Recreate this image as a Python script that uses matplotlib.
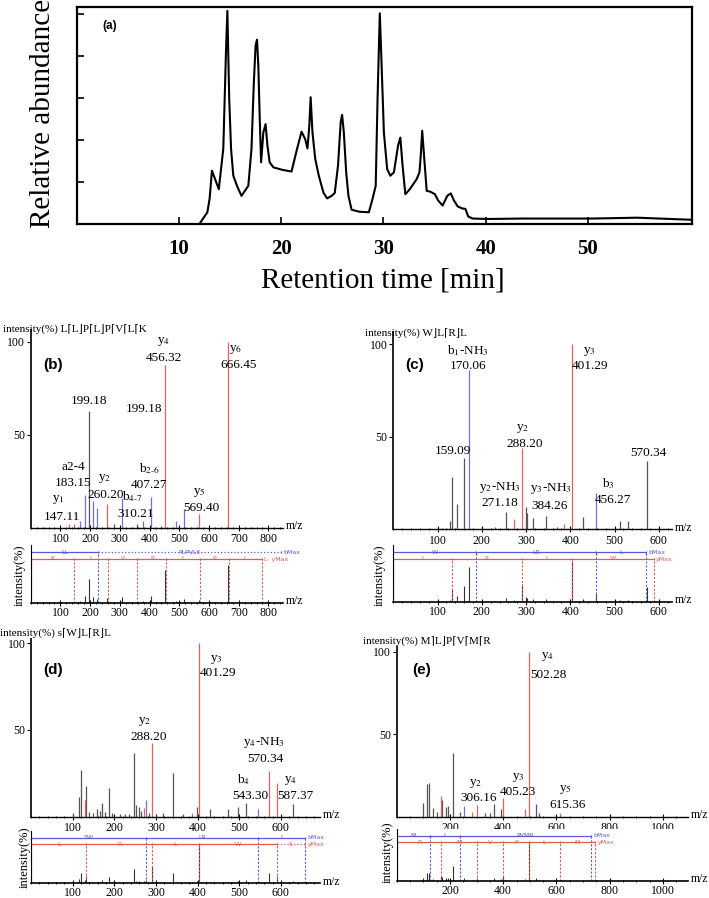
import matplotlib
matplotlib.use("Agg")
import matplotlib.pyplot as plt
from matplotlib.ticker import MultipleLocator

plt.rcParams['font.family'] = ['Liberation Serif', 'DejaVu Sans']
plt.rcParams['mathtext.fontset'] = 'stix'

W, H = 709, 898

# ---------------- data ----------------
# (a) chromatogram
rt_min = [12.09, 12.76, 12.98, 13.21, 13.88, 14.32, 14.59, 14.72, 14.90, 15.08, 15.30, 15.66,
          16.10, 16.77, 17.08, 17.31, 17.48, 17.62, 17.75, 17.88, 18.02, 18.24, 18.46, 18.64,
          18.86, 19.22, 20.11, 21.00, 21.54, 21.98, 22.34, 22.56, 22.74, 22.87, 23.05, 23.32,
          23.67, 24.12, 24.48, 24.92, 25.23, 25.55, 25.81, 25.95, 26.12, 26.35, 26.57, 26.88,
          27.68, 28.57, 28.93, 29.24, 29.42, 29.64, 29.82, 30.04, 30.36, 30.67, 31.02, 31.43,
          31.65, 31.87, 32.14, 32.58, 33.25, 33.52, 33.65, 33.79, 33.97, 34.23, 34.59, 35.03,
          35.35, 35.79, 36.24, 36.59, 36.90, 37.26, 37.71, 38.02, 38.29, 38.73, 40.16, 43.72,
          50.40, 54.85, 60.2]
abundance = [0.04, 0.28, 0.60, 1.27, 0.83, 1.79, 4.17, 5.08, 2.98, 1.79, 1.15, 0.91,
             0.67, 0.91, 1.79, 3.37, 4.25, 4.39, 3.77, 2.58, 1.47, 2.18, 2.38, 1.87,
             1.47, 1.35, 1.29, 1.25, 1.79, 2.20, 2.02, 1.80, 2.34, 3.02, 2.18, 1.55,
             1.15, 0.75, 0.61, 0.67, 0.74, 1.39, 2.42, 2.60, 2.18, 1.23, 0.67, 0.34,
             0.29, 0.28, 0.60, 0.91, 2.98, 5.02, 3.77, 2.18, 1.31, 1.15, 1.23, 1.87,
             2.06, 1.39, 0.71, 0.83, 1.07, 1.23, 1.63, 2.22, 1.63, 0.79, 0.77, 0.71,
             0.56, 0.44, 0.67, 0.73, 0.56, 0.42, 0.37, 0.36, 0.18, 0.13, 0.12, 0.13,
             0.13, 0.15, 0.10]
rt_ticks = [10, 20, 30, 40, 50]

# (b) LLPLPVLK
b_seq = "L⌈L⌋P⌈L⌋P⌈V⌈L⌈K"
b_mz = [128, 145, 167, 182, 197, 210, 223, 257, 279, 307, 357, 377, 405, 440, 453, 489, 517, 567, 663]
b_int = [2, 2, 3.6, 17.6, 63, 14.6, 10.4, 12.8, 2, 15.8, 2, 3.6, 16.7, 1, 87.6, 3.6, 10, 7.2, 100]
b_ion = ['y', 'y', 'b', 'b', 'o', 'b', 'b', 'y', 'o', 'b', 'o', 'b', 'b', 'o', 'y', 'b', 'b', 'y', 'y']
b_bfrag = [0, 227, 842]
b_bnames = ["LL", "PLPVLK"]
b_yfrag = [0, 147, 260, 359, 456, 569, 666, 779]
b_ynames = ["K", "L", "V", "P", "L", "P", "L"]

# (c) WLRL
c_seq = "W⌋L⌈R⌋L"
c_mz = [110, 129, 133, 145, 159.5, 171, 230, 254, 272, 290, 299, 301, 316, 345, 369, 385, 403,
        429, 459, 512, 531, 573.6]
c_int = [0.8, 4.3, 28, 13.4, 38.3, 86, 1.3, 9.4, 5.2, 43.7, 12, 8.8, 5.8, 7.2, 1, 2.5, 100,
         6.7, 19.7, 4.3, 4.3, 37]
c_ion = ['o', 'o', 'o', 'o', 'o', 'b', 'o', 'o', 'y', 'y', 'o', 'o', 'o', 'o', 'o', 'y', 'y',
         'o', 'b', 'o', 'o', 'o']
c_bfrag = [0, 187, 459, 572]
c_bnames = ["W", "LR", "L"]
c_yfrag = [0, 133, 290, 403, 589]
c_ynames = ["L", "R", "L", "W"]

# (d) SWLRL
d_seq = "s⌈W⌋L⌈R⌋L"
d_mz = [102, 115, 119, 130, 132, 140, 150, 159, 165, 171, 178, 187, 195, 214, 225, 235, 247, 253,
        260, 265, 271, 275, 283, 290, 300, 318, 340, 364, 386, 399, 403, 431, 474, 498, 516,
        546, 572, 590, 630]
d_int = [1.9, 11.5, 26.9, 9.6, 17.7, 2.5, 2, 4.2, 3, 7.7, 2.5, 16.3, 2, 1.5, 1.5, 1.5, 36.5, 6.7,
         5.8, 3, 4.8, 9.6, 2, 42.7, 1.5, 1.9, 25.4, 1.5, 2.3, 5.8, 100, 4.2, 4.2, 5.4, 7.7,
         4.2, 26.5, 19.6, 7.1]
d_ion = ['o', 'o', 'o', 'y', 'o', 'o', 'o', 'o', 'o', 'o', 'o', 'o', 'o', 'o', 'o', 'o', 'o', 'o',
         'o', 'o', 'y', 'b', 'o', 'y', 'o', 'o', 'o', 'o', 'y', 'o', 'y', 'o', 'o', 'o', 'o',
         'b', 'y', 'y', 'o']
d_bfrag = [0, 275, 546, 659]
d_bnames = ["SW", "LR", "L"]
d_yfrag = [0, 133, 290, 403, 590, 659]
d_ynames = ["L", "R", "L", "W", "S"]

# (e) MLPVMR
e_seq = "M⌉L⌋P⌈V⌈M⌈R"
e_mz = [99, 112, 122, 137, 150, 166, 171, 184, 191, 210, 238, 254, 282, 301, 332, 351, 367, 393,
        399, 481, 497, 524, 534, 614]
e_int = [8.2, 20, 20.4, 5.1, 3, 12.7, 10.2, 6.1, 6.7, 38.4, 3, 6.5, 3, 7.1, 2, 2, 7.8, 4.5,
         11.2, 4.5, 100, 7.6, 2, 2.4]
e_ion = ['o', 'o', 'o', 'o', 'o', 'y', 'o', 'o', 'o', 'o', 'o', 'b', 'y', 'y', 'o', 'o', 'o', 'o',
         'y', 'y', 'y', 'o', 'o', 'y']
e_bfrag = [0, 125, 237, 729]
e_bnames = ["M", "L", "PVMR"]
e_yfrag = [0, 168, 301, 399, 497, 613, 745]
e_ynames = ["R", "M", "V", "P", "L", "M"]

# ---------------- styles / layout ----------------
ion_color = {'y': '#e4625c', 'b': '#7070dc', 'o': '#555555'}
RED, BLUE = '#e25b55', '#5a5ad8'

fig = plt.figure(figsize=(W / 100, H / 100), dpi=100)


def px_axes(left, top, right, bottom):
    return fig.add_axes([left / W, 1 - bottom / H, (right - left) / W, (bottom - top) / H])


def fig_text(x, y, s, **kw):
    return fig.text(x / W, 1 - y / H, s, **kw)


# ---------------- (a) ----------------
ax = px_axes(77, 7, 692, 224)
ax.plot(rt_min, abundance, color='black', lw=1.5)
ax.set_xlim(0, 60.2)
ax.set_ylim(0, 5.17)
ax.set_xticks(rt_ticks)
ax.set_yticks([1, 2, 3, 4, 5])
ax.set_yticklabels([])
ax.tick_params(direction='in', length=5, width=1.2, pad=11)
for lab in ax.get_xticklabels():
    lab.set_fontsize(15)
    lab.set_fontweight('bold')
for s in ax.spines.values():
    s.set_linewidth(1.6)
fig_text(110, 26, '(a)', family='Liberation Sans', fontweight='bold', fontsize=8.5,
         ha='center', va='center')
fig_text(383, 281, 'Retention time [min]', fontsize=21, ha='center', va='center')
fig_text(43, 113, 'Relative abundance', fontsize=21, rotation=90, ha='center', va='center')


# ---------------- spectra ----------------
def spectrum(main_box, low_box, xmax, xticks, minor, mz, inten, ion, notes,
             bfrag, bnames, yfrag, ynames, bdotted, ydotted, yend):
    l, t, r, b, p100 = main_box
    ax = px_axes(l, t, r, b)
    for kind in ('o', 'b', 'y'):
        xs = [m for m, k in zip(mz, ion) if k == kind]
        vs = [v for v, k in zip(inten, ion) if k == kind]
        ax.vlines(xs, 0, vs, color=ion_color[kind], lw=0.9)
    ax.set_xlim(0, xmax)
    ax.set_ylim(0, 100 * (b - t) / (b - p100))
    ax.set_xticks(xticks)
    ax.xaxis.set_minor_locator(MultipleLocator(minor))
    ax.set_yticks([50, 100])
    ax.tick_params(axis='x', direction='inout', length=4, width=0.8, labelsize=8.5, pad=2)
    ax.tick_params(axis='x', which='minor', direction='inout', length=2, width=0.6)
    ax.tick_params(axis='y', direction='out', length=3, width=0.8, labelsize=8.5, pad=1)
    for s in ('top', 'right'):
        ax.spines[s].set_visible(False)
    ax.spines['left'].set_linewidth(1.4)
    ax.spines['left'].set_color('#222222')
    ax.spines['bottom'].set_linewidth(1.0)
    ax.annotate('m/z', xy=(1, 0), xycoords='axes fraction', xytext=(2, 1),
                textcoords='offset points', ha='left', va='center', fontsize=8.5)
    for txt, x, y in notes:
        ax.text(x, y, txt, fontsize=9.5, ha='center', va='center')

    # lower panel: mirrored spectrum and fragment ladder
    l, t, r, b, p100, yb, yr = low_box
    lo = px_axes(l, t, r, b)
    scale = 100 / (b - p100)
    lo.set_xlim(0, xmax)
    lo.set_ylim(0, scale * (b - t))
    lo.vlines(mz, 0, inten, color='#333333', lw=0.8)
    lb = scale * (b - yb)
    lr = scale * (b - yr)
    dash = (0, (2, 1.5))
    for frag, names, col, lev, dotted, end in ((bfrag, bnames, BLUE, lb, bdotted, 'bMax'),
                                               (yfrag, ynames, RED, lr, ydotted, yend)):
        for i in range(len(frag) - 1):
            lo.plot([frag[i], frag[i + 1]], [lev, lev], color=col, lw=0.9,
                    ls=':' if i in dotted else '-')
            lo.text((frag[i] + frag[i + 1]) / 2, lev, names[i], color=col, fontsize=4.5,
                    ha='center', va='center', family='DejaVu Sans')
        lo.vlines(frag, lev - 3, lev + 3, color=col, lw=0.8)
        cuts = [f for i, f in enumerate(frag[1:]) if i not in dotted]
        lo.vlines(cuts, 0, lev, color=col, lw=0.8, ls=dash)
        lo.text(frag[-1] + xmax * 0.008, lev, end, color=col, fontsize=4.5, va='center',
                family='DejaVu Sans')
    lo.vlines([0], 0, lr, color=RED, lw=1.0, ls=(0, (1, 1)))
    lo.set_xticks(xticks)
    lo.xaxis.set_minor_locator(MultipleLocator(minor))
    lo.set_yticks([])
    lo.tick_params(axis='x', direction='inout', length=4, width=0.8, labelsize=8.5, pad=1)
    lo.tick_params(axis='x', which='minor', direction='inout', length=2, width=0.6)
    for s in ('top', 'right'):
        lo.spines[s].set_visible(False)
    lo.spines['left'].set_linewidth(0.8)
    lo.spines['bottom'].set_linewidth(1.2)
    lo.annotate('m/z', xy=(1, 0), xycoords='axes fraction', xytext=(2, 1),
                textcoords='offset points', ha='left', va='center', fontsize=8.5)
    return ax, lo


notes_b = [("199.18", 197, 68.3), ("199.18", 382, 64), (r"y$_4$", 447, 100), ("456.32", 447, 91.2),
           (r"y$_6$", 688, 95.7), ("666.45", 699, 87.6), ("a2-4", 142, 32.9), ("183.15", 142, 23.9),
           (r"y$_1$", 94, 15), ("147.11", 106, 6), (r"y$_2$", 248, 26.6), ("260.20", 251, 17.6),
           (r"b$_{4\text{-}7}$", 341, 16.7), ("310.21", 352, 7.4), (r"b$_{2\text{-}6}$", 399, 31.7),
           ("407.27", 397, 23), (r"y$_5$", 567, 18.9), ("569.40", 576, 10.4)]
notes_c = [(r"b$_1$-NH$_3$", 169, 96.4), ("170.06", 168, 88.4), (r"y$_3$", 444, 96),
           ("401.29", 444, 88), ("159.09", 135, 42.2), (r"y$_2$", 293, 54.5), ("288.20", 296, 46),
           ("570.34", 576, 41), (r"y$_2$-NH$_3$", 241, 22.6), ("271.18", 241, 13.9),
           (r"y$_3$-NH$_3$", 355, 21.7), ("384.26", 352, 12.5), (r"b$_3$", 485, 24.4),
           ("456.27", 497, 15.7)]
notes_d = [(r"y$_3$", 446, 90.4), ("401.29", 448, 83), (r"y$_2$", 272, 54.8), ("288.20", 283, 46),
           (r"y$_4$-NH$_3$", 559, 42.7), ("570.34", 562, 33), (r"b$_4$", 510, 21.5),
           ("543.30", 526, 12), (r"y$_4$", 623, 21), ("587.37", 634, 12)]
notes_e = [(r"y$_4$", 565, 97), ("502.28", 569, 86), (r"y$_2$", 297, 20.4), ("306.16", 307, 11.2),
           (r"y$_3$", 456, 24), ("405.23", 456, 14.7), (r"y$_5$", 632, 16.7), ("615.36", 641, 7.1)]

spectrum((30.7, 330, 283.3, 527.7, 342), (30.7, 545, 283.3, 602.7, 565, 552.3, 559),
         850, [100, 200, 300, 400, 500, 600, 700, 800], 20, b_mz, b_int, b_ion, notes_b,
         b_bfrag, b_bnames, b_yfrag, b_ynames, {1}, set(), 'L· yMax')
spectrum((393.3, 331.7, 671.7, 529, 344.3), (393.3, 545, 671.7, 601.7, 561, 552.3, 559),
         629, [100, 200, 300, 400, 500, 600], 20, c_mz, c_int, c_ion, notes_c,
         c_bfrag, c_bnames, c_yfrag, c_ynames, set(), set(), 'yMax')
spectrum((31, 639, 320, 816.7, 643.3), (31, 831, 320, 883.3, 844.3, 837.7, 844.3),
         694, [100, 200, 300, 400, 500, 600], 20, d_mz, d_int, d_ion, notes_d,
         d_bfrag, d_bnames, d_yfrag, d_ynames, set(), {4}, 'yMax')
spectrum((396.7, 646.7, 688.3, 816.7, 652), (396.7, 829, 688.3, 880.7, 842.3, 835.7, 842.3),
         1095, [200, 400, 600, 800, 1000], 50, e_mz, e_int, e_ion, notes_e,
         e_bfrag, e_bnames, e_yfrag, e_ynames, set(), set(), 'yMax')

# headers, panel letters, lower-axis labels
for x, y, seq in ((3, 329, b_seq), (365, 333, c_seq), (0, 633, d_seq), (363, 641, e_seq)):
    fig_text(x, y, 'intensity(%) ' + seq, fontsize=8, ha='left', va='center')
for x, y, s in ((53, 365, '(b)'), (415, 365, '(c)'), (53, 670, '(d)'), (422, 670, '(e)')):
    fig_text(x, y, s, family='Liberation Sans', fontweight='bold', fontsize=11,
             ha='center', va='center')
for x, y in ((20, 575), (380, 575), (25, 857), (388, 852)):
    fig_text(x, y, 'intensity(%)', fontsize=9, rotation=90, ha='center', va='center')

fig.savefig('out.png', dpi=100)
